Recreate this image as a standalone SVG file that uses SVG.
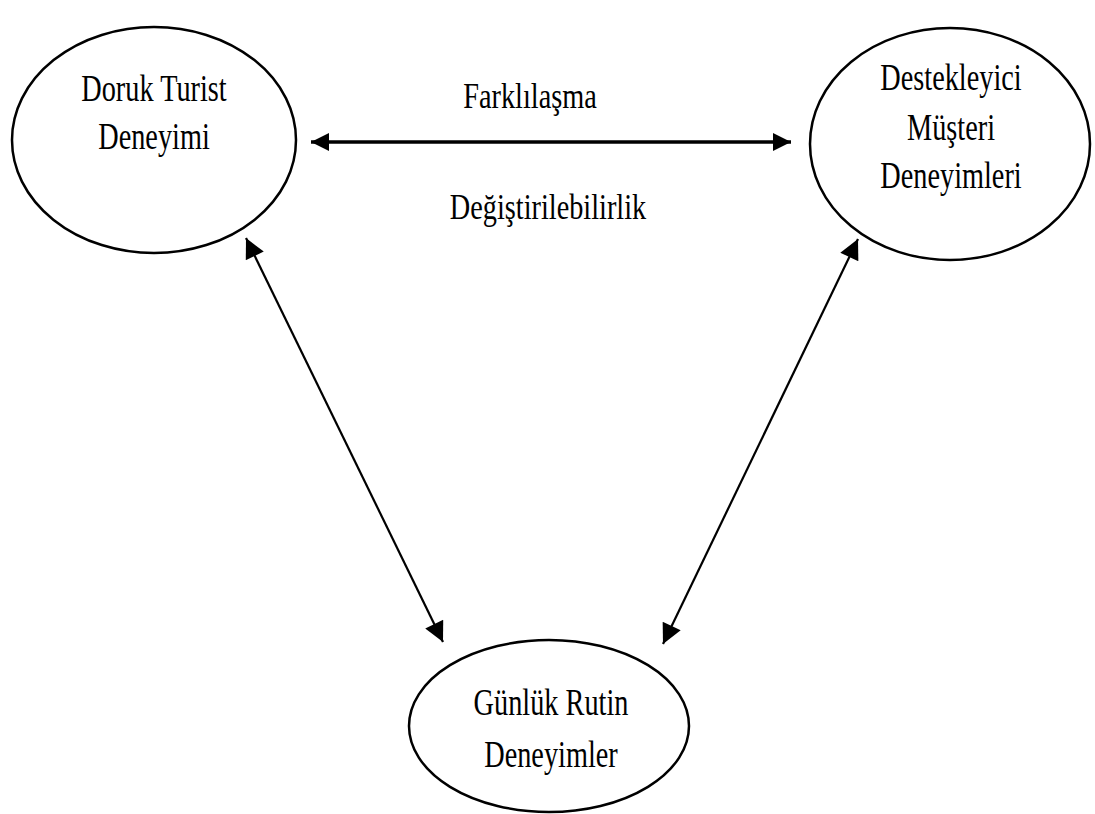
<svg xmlns="http://www.w3.org/2000/svg" width="1095" height="814" viewBox="0 0 1095 814">
  <style>
    .node { fill: #ffffff; stroke: #000000; stroke-width: 2.5; }
    .label { font-family: "Liberation Serif", "Times New Roman", serif; font-size: 28.3px; fill: #000000; text-anchor: middle; }
    .link { stroke: #000000; stroke-width: 2.2; fill: none; }
    .link-thick { stroke: #000000; stroke-width: 3.5; fill: none; }
  </style>
  <defs>
    <marker id="headWide" viewBox="0 0 10 10" refX="10" refY="5" markerWidth="18" markerHeight="26" markerUnits="userSpaceOnUse" orient="auto-start-reverse">
      <path d="M0,0 L10,5 L0,10 Z" fill="#000000"/>
    </marker>
    <marker id="headDiag" viewBox="0 0 10 10" refX="10" refY="5" markerWidth="25" markerHeight="20" markerUnits="userSpaceOnUse" orient="auto-start-reverse">
      <path d="M0,0 L10,5 L0,10 Z" fill="#000000"/>
    </marker>
  </defs>

  <g id="connectors">
    <line class="link-thick" x1="311" y1="142" x2="791" y2="142" marker-start="url(#headWide)" marker-end="url(#headWide)"/>
    <line class="link" x1="246" y1="238" x2="443" y2="642" marker-start="url(#headDiag)" marker-end="url(#headDiag)"/>
    <line class="link" x1="858" y1="239" x2="663" y2="644" marker-start="url(#headDiag)" marker-end="url(#headDiag)"/>
  </g>

  <g id="edge-labels">
    <text class="label" transform="translate(530,108) scale(1,1.3)">Farklılaşma</text>
    <text class="label" transform="translate(548,219) scale(1,1.3)">Değiştirilebilirlik</text>
  </g>

  <g id="node-doruk">
    <ellipse class="node" cx="154" cy="140" rx="142" ry="113"/>
    <text class="label" transform="translate(154,101) scale(1,1.32)">Doruk Turist</text>
    <text class="label" transform="translate(154,149) scale(1,1.32)">Deneyimi</text>
  </g>

  <g id="node-destekleyici">
    <ellipse class="node" cx="950" cy="144" rx="140" ry="116"/>
    <text class="label" transform="translate(951,90) scale(1,1.32)">Destekleyici</text>
    <text class="label" transform="translate(951,140) scale(1,1.32)">Müşteri</text>
    <text class="label" transform="translate(951,188) scale(1,1.32)">Deneyimleri</text>
  </g>

  <g id="node-gunluk">
    <ellipse class="node" cx="549" cy="726" rx="140" ry="86"/>
    <text class="label" transform="translate(551,715) scale(1,1.32)">Günlük Rutin</text>
    <text class="label" transform="translate(551,767) scale(1,1.32)">Deneyimler</text>
  </g>
</svg>
